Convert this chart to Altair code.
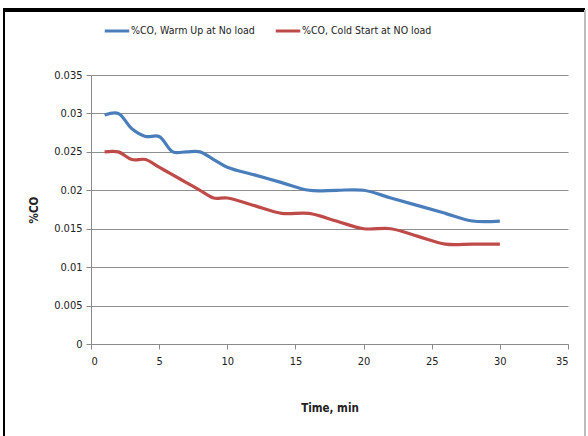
import altair as alt
import pandas as pd

time_min = [1, 2, 3, 4, 5, 6, 7, 8, 9, 10, 12, 14, 16, 18, 20, 22, 24, 26, 28, 30]
warm_up = [0.0298, 0.030, 0.028, 0.027, 0.027, 0.025, 0.025, 0.025, 0.024, 0.023,
           0.022, 0.021, 0.020, 0.020, 0.020, 0.019, 0.018, 0.017, 0.016, 0.016]
cold_start = [0.025, 0.025, 0.024, 0.024, 0.023, 0.022, 0.021, 0.020, 0.019, 0.019,
              0.018, 0.017, 0.017, 0.016, 0.015, 0.015, 0.014, 0.013, 0.013, 0.013]
series_names = ["%CO, Warm Up at No load", "%CO, Cold Start at NO load"]
series_colors = ["#4A7EBB", "#BE4B48"]

rows = []
for t, w, c in zip(time_min, warm_up, cold_start):
    rows.append({"t": t, "v": w, "s": series_names[0]})
    rows.append({"t": t, "v": c, "s": series_names[1]})
df = pd.DataFrame(rows)

FONT = "Liberation Sans Narrow, DejaVu Sans Condensed, sans-serif"

lines = alt.Chart(df).mark_line(strokeWidth=3.2, interpolate="catmull-rom").encode(
    x=alt.X("t:Q", scale=alt.Scale(domain=[0, 35], nice=False),
            axis=alt.Axis(values=list(range(0, 36, 5)), title="Time, min", grid=False,
                          tickSize=5, labelPadding=6, titlePadding=36)),
    y=alt.Y("v:Q", scale=alt.Scale(domain=[0, 0.035], nice=False),
            axis=alt.Axis(values=[0, 0.005, 0.01, 0.015, 0.02, 0.025, 0.03, 0.035],
                          format=".3~f", title="%CO", grid=True, tickSize=5,
                          labelPadding=4, titlePadding=14)),
    color=alt.Color("s:N", scale=alt.Scale(domain=series_names, range=series_colors),
                    sort=series_names,
                    legend=alt.Legend(title=None, orient="none", direction="horizontal",
                                      legendX=12, legendY=-58, symbolType="stroke",
                                      symbolStrokeWidth=3, symbolSize=600,
                                      labelFontSize=10.5, labelFont=FONT,
                                      labelColor="#222", columnPadding=14,
                                      labelOffset=0)),
)

frame_left = alt.Chart(df).mark_rule(color="black", strokeWidth=2).encode(
    x=alt.value(-87), y=alt.value(-66), y2=alt.value(400))
frame_top = alt.Chart(df).mark_rule(color="black", strokeWidth=2.5).encode(
    x=alt.value(-88), x2=alt.value(494), y=alt.value(-65))
frame_right = alt.Chart(df).mark_rule(color="#bbbbbb", strokeWidth=1).encode(
    x=alt.value(494), y=alt.value(-65), y2=alt.value(400))

chart = alt.layer(lines, frame_left, frame_top, frame_right).properties(
    width=477, height=269,
    autosize=alt.AutoSizeParams(type="none"),
    padding={"left": 91, "top": 75, "right": 20, "bottom": 92},
    background="white",
).configure_view(stroke=None).configure_axis(
    domainColor="#8a8a8a", tickColor="#8a8a8a", gridColor="#8f8f8f",
    labelFont=FONT, titleFont=FONT, labelFontSize=11, titleFontSize=11.5,
    labelColor="#222", titleColor="#222", titleFontWeight="bold",
)

chart.save("out.html", embed_options={"renderer": "svg", "actions": False})
